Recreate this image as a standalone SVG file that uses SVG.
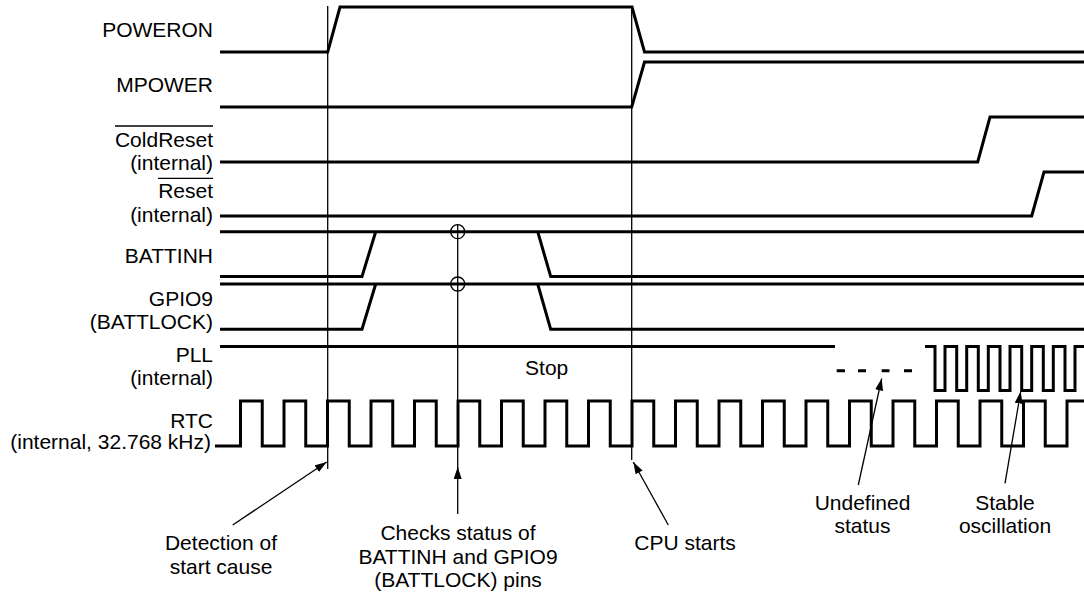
<svg xmlns="http://www.w3.org/2000/svg" width="1084" height="596" viewBox="0 0 1084 596">
<style>
.sig{fill:none;stroke:#000;stroke-width:3;stroke-linejoin:miter}
.thin{fill:none;stroke:#000;stroke-width:1.3}
.arr{fill:none;stroke:#000;stroke-width:1.3}
text{font-family:"Liberation Sans",Arial,sans-serif;font-size:21px;fill:#000}
.r{text-anchor:end}
.c{text-anchor:middle}
</style>
<defs>
<marker id="ah" markerUnits="userSpaceOnUse" markerWidth="14" markerHeight="10" refX="12" refY="4" orient="auto">
<path d="M0,0 L12,4 L0,8 Z" fill="#000"/>
</marker>
</defs>
<rect width="1084" height="596" fill="#fff"/>

<g id="poweron">
<text class="r" x="213" y="37">POWERON</text>
<path class="sig" d="M220,52 H327.7 L340,7 H632 L644.5,52 H1084"/>
</g>
<g id="mpower">
<text class="r" x="213" y="92">MPOWER</text>
<path class="sig" d="M220,107 H631.7 L644.5,62 H1084"/>
</g>
<g id="coldreset">
<text class="r" x="213" y="147">ColdReset</text>
<line class="thin" x1="115" y1="126" x2="213" y2="126"/>
<text class="r" x="213" y="170">(internal)</text>
<path class="sig" d="M220,162 H977.7 L990,117 H1084"/>
</g>
<g id="reset">
<text class="r" x="213" y="198">Reset</text>
<line class="thin" x1="158" y1="178.3" x2="213" y2="178.3"/>
<text class="r" x="213" y="222">(internal)</text>
<path class="sig" d="M220,216 H1031.7 L1044,172 H1084"/>
</g>
<g id="battinh">
<text class="r" x="213" y="263">BATTINH</text>
<path class="sig" d="M220,231.7 H1084"/>
<path class="sig" d="M220,276.5 H362 L375.7,231.7"/>
<path class="sig" d="M537.7,231.7 L550.7,276.5 H1084"/>
</g>
<g id="gpio9">
<text class="r" x="213" y="306">GPIO9</text>
<text class="r" x="213" y="328.5">(BATTLOCK)</text>
<path class="sig" d="M220,284 H1084"/>
<path class="sig" d="M220,329.3 H362 L375.7,284"/>
<path class="sig" d="M537.7,284 L550.7,329.3 H1084"/>
</g>
<g id="pll">
<text class="r" x="213" y="361.7">PLL</text>
<text class="r" x="213" y="385">(internal)</text>
<path class="sig" d="M220,346.5 H835"/>
<path class="sig" d="M836.7,370.7 H845 M858,370.7 H866 M881.7,370.7 H889.5 M904,370.7 H912"/>
<path class="sig" d="M925,346.5 H935 V390.5 H945 V346.5 H956.7 V390.5 H966.7 V346.5 H978.3 V390.5 H988.3 V346.5 H1000 V390.5 H1010 V346.5 H1021.7 V390.5 H1031.7 V346.5 H1043.3 V390.5 H1053.3 V346.5 H1065 V390.5 H1075 V346.5 H1084"/>
<text class="c" x="546.7" y="375">Stop</text>
</g>
<g id="rtc">
<text class="r" x="213" y="428.3">RTC</text>
<text class="r" x="211" y="449">(internal, 32.768 kHz)</text>
<path class="sig" d="M215,446 H240.5 V401 H262.25 V446 H284 V401 H305.75 V446 H327.5 V401 H349.25 V446 H371 V401 H392.75 V446 H414.5 V401 H436.25 V446 H458 V401 H479.75 V446 H501.5 V401 H523.25 V446 H545 V401 H566.75 V446 H588.5 V401 H610.25 V446 H632 V401 H653.75 V446 H675.5 V401 H697.25 V446 H719 V401 H740.75 V446 H762.5 V401 H784.25 V446 H806 V401 H827.75 V446 H849.5 V401 H871.25 V446 H893 V401 H914.75 V446 H936.5 V401 H958.25 V446 H980 V401 H1001.75 V446 H1023.5 V401 H1045.25 V446 H1067 V401 H1084"/>
</g>

<g id="connectors">
<line class="thin" x1="327.7" y1="6" x2="327.7" y2="469"/>
<line class="thin" x1="631.7" y1="6" x2="631.7" y2="460"/>
<line class="thin" x1="457.7" y1="224.7" x2="457.7" y2="469"/>
<circle class="thin" cx="457.7" cy="231.7" r="7"/>
<circle class="thin" cx="457.7" cy="284" r="7"/>
<line class="arr" x1="232.7" y1="525" x2="326.7" y2="462" marker-end="url(#ah)"/>
<line class="arr" x1="457.7" y1="514" x2="457.7" y2="467" marker-end="url(#ah)"/>
<line class="arr" x1="668.3" y1="525" x2="633.3" y2="462" marker-end="url(#ah)"/>
<line class="arr" x1="858.3" y1="485" x2="881.7" y2="378.5" marker-end="url(#ah)"/>
<line class="arr" x1="1005" y1="483.3" x2="1020.7" y2="391.5" marker-end="url(#ah)"/>
</g>

<g id="annotations">
<text class="c" x="221" y="550">Detection of</text>
<text class="c" x="221" y="574">start cause</text>
<text class="c" x="458" y="540">Checks status of</text>
<text class="c" x="458" y="563.5">BATTINH and GPIO9</text>
<text class="c" x="458" y="587">(BATTLOCK) pins</text>
<text class="c" x="685" y="550">CPU starts</text>
<text class="c" x="862.5" y="510">Undefined</text>
<text class="c" x="862.5" y="533">status</text>
<text class="c" x="1005" y="510">Stable</text>
<text class="c" x="1005" y="533">oscillation</text>
</g>
</svg>
